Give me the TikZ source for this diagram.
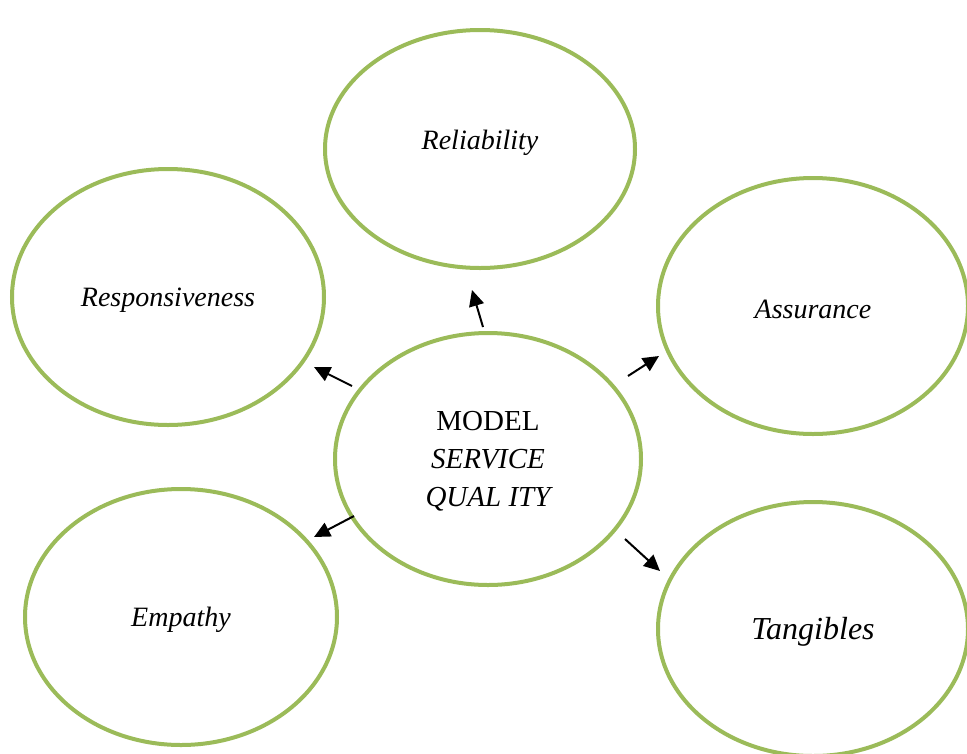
\documentclass[tikz,border=0pt]{standalone}
\usepackage{fontspec}
\setmainfont{Liberation Serif}
\usetikzlibrary{arrows.meta}
\definecolor{olivegreen}{HTML}{9BBB59}
\begin{document}
\begin{tikzpicture}[x=1pt,y=-1pt,
  bubble/.style={draw=olivegreen,line width=4pt,fill=white},
  label/.style={font=\fontsize{28}{32}\selectfont\itshape},
  link/.style={line width=2pt,-{Triangle[length=16pt,width=15pt]}}]
\useasboundingbox (0,0) rectangle (967,753);
% the six ellipses
\draw[bubble] (480,149) ellipse (155 and 119);
\draw[bubble] (168,297) ellipse (156 and 128);
\draw[bubble] (813,306) ellipse (155 and 128);
\draw[bubble] (488,459) ellipse (153 and 126);
\draw[bubble] (181,617) ellipse (156 and 128);
\draw[bubble] (813,629) ellipse (155 and 127);
% labels
\node[label] (rel) at (480,143) {Reliability};
\node[label] (res) at (168,300) {Responsiveness};
\node[label] (ass) at (813,309) {Assurance};
\node[label] (emp) at (181,620) {Empathy};
\node[font=\fontsize{32}{36}\selectfont\itshape] (tan) at (813,632) {Tangibles};
\node[font=\fontsize{29}{38}\selectfont,align=center] (mod) at (488,461)
  {MODEL\\\itshape SERVICE\\\itshape QUAL ITY};
% arrow end points
\coordinate (a1s) at (483,327); \coordinate (a1e) at (472,290);
\coordinate (a2s) at (352,386); \coordinate (a2e) at (314,367);
\coordinate (a3s) at (628,376); \coordinate (a3e) at (659,356);
\coordinate (a4s) at (354,516); \coordinate (a4e) at (314,537);
\coordinate (a5s) at (625,539); \coordinate (a5e) at (660,571);
\draw[link] (a1s) -- (a1e);
\draw[link] (a2s) -- (a2e);
\draw[link] (a3s) -- (a3e);
\draw[link] (a4s) -- (a4e);
\draw[link] (a5s) -- (a5e);
\end{tikzpicture}
\end{document}
